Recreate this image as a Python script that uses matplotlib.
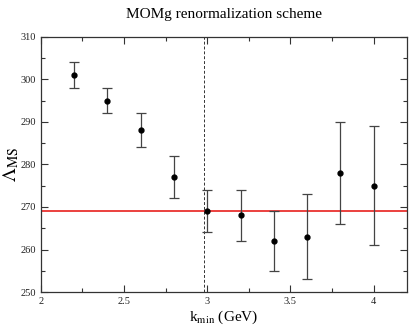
import matplotlib
matplotlib.use("Agg")
import matplotlib.pyplot as plt
from matplotlib.ticker import MultipleLocator

plt.rcParams['font.family'] = ['Liberation Serif', 'DejaVu Serif']
plt.rcParams['mathtext.fontset'] = 'stix'

k_min = [2.2, 2.4, 2.6, 2.8, 3.0, 3.2, 3.4, 3.6, 3.8, 4.0]
lam = [301, 295, 288, 277, 269, 268, 262, 263, 278, 275]
err_lo = [3, 3, 4, 5, 5, 6, 7, 10, 12, 14]
err_hi = [3, 3, 4, 5, 5, 6, 7, 10, 12, 14]
lam_fit = 269
k_cut = 2.98

fig = plt.figure(figsize=(4.09, 3.27), dpi=100)
ax = fig.add_axes([0.100, 0.107, 0.895, 0.780])

ax.axhline(lam_fit, color='#e8201e', lw=1.2, zorder=1)
ax.axvline(k_cut, color='#333333', lw=0.7, ls=(0, (3, 2)), zorder=1)
ax.errorbar(k_min, lam, yerr=[err_lo, err_hi], fmt='o', color='black', ms=3.5,
            ecolor='#444444', elinewidth=0.9, capsize=3.5, capthick=0.9, zorder=3)

ax.set_xlim(2, 4.2)
ax.set_ylim(250, 310)
ax.xaxis.set_major_locator(MultipleLocator(0.5))
ax.xaxis.set_minor_locator(MultipleLocator(0.25))
ax.yaxis.set_major_locator(MultipleLocator(10))
ax.yaxis.set_minor_locator(MultipleLocator(5))
ax.xaxis.set_major_formatter(matplotlib.ticker.FuncFormatter(lambda v, p: ('%g' % v)))
ax.tick_params(which='both', direction='in', top=True, right=True, labelsize=7.5, width=0.8,
               color='#333333', labelcolor='#222222')
ax.tick_params(which='major', length=5)
ax.tick_params(which='minor', length=3)
for s in ax.spines.values():
    s.set_linewidth(0.9)
    s.set_color('#333333')

ax.set_xlabel(r'k$_{\rm min}$ (GeV)', fontsize=11, labelpad=2)
ax.set_ylabel(r'$\Lambda_{\rm MS}$', fontsize=14, labelpad=0)
ax.set_title('MOMg renormalization scheme', fontsize=11, pad=14)

fig.savefig('out.png', dpi=100)
